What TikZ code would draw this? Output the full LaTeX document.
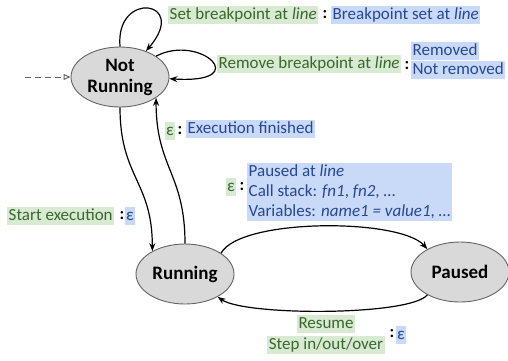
\documentclass[tikz,border=0pt]{standalone}
\usepackage{fontspec}
\setmainfont{Carlito}
\usetikzlibrary{shapes.geometric,arrows.meta}

\definecolor{evfill}{RGB}{217,234,211}
\definecolor{evtext}{RGB}{56,104,46}
\definecolor{rsfill}{RGB}{201,218,248}
\definecolor{rstext}{RGB}{38,72,148}
\definecolor{stfill}{RGB}{217,217,217}
\definecolor{stline}{RGB}{100,100,100}

\begin{document}
\begin{tikzpicture}[x=1pt,y=-1pt,
  state/.style={ellipse, draw=stline, fill=stfill, line width=0.9pt,
    minimum width=98pt, minimum height=60pt, inner sep=0pt,
    font=\fontsize{19}{21}\selectfont\bfseries, align=center},
  lbl/.style={inner xsep=1.5pt, inner ysep=1pt,
    font=\fontsize{17}{20}\selectfont},
  oneline/.style={text height=12.5pt, text depth=4pt},
  event/.style={lbl, oneline, fill=evfill, text=evtext},
  result/.style={lbl, oneline, fill=rsfill, text=rstext},
  resultblock/.style={lbl, inner ysep=2pt, fill=rsfill, text=rstext, align=left},
  sep/.style={font=\fontsize{17}{20}\selectfont\bfseries, inner sep=0pt},
  trans/.style={line width=1.2pt, -{Stealth[length=8pt,width=6pt]}},
]
\useasboundingbox (0,0) rectangle (508,360);

% states
\node[state] (nr) at (120,77) {Not\\Running};
\node[state] (run) at (185,274) {Running};
\node[state] (pa) at (460,272) {Paused};

% initial marker
\coordinate (init) at (25,77);
\draw[stline, line width=1pt, dash pattern=on 6pt off 4pt,
  -{Triangle[open,length=7pt,width=6pt]}] (init) -- (nr.west);

% self loops on Not Running
\draw[trans] (nr.north) .. controls (115,-10) and (190,0) .. (nr.45);
\draw[trans] (nr.30) .. controls (200,33) and (255,84) .. (nr.-2);

% Not Running <-> Running
\draw[trans] (nr.south) .. controls +(0,70) and +(0,-70) .. (run.145);
\draw[trans] (run.north) .. controls +(0,-70) and +(0,70) .. (nr.-30);

% Running <-> Paused
\draw[trans] (run.30) .. controls (240,218) and (400,218) .. (pa.145);
\draw[trans] (pa.-145) .. controls (410,316) and (245,316) .. (run.-35);

% labels: set breakpoint
\node[event, anchor=west] (setev) at (168,15) {Set breakpoint at \textit{line}};
\node[sep] (setc) at (325,15) {:};
\node[result, anchor=west] (setres) at (331,15) {Breakpoint set at \textit{line}};

% labels: remove breakpoint
\node[event, anchor=west] (remev) at (217,64) {Remove breakpoint at \textit{line}};
\node[sep] (remc) at (407,66) {:};
\node[result, anchor=west] (remres1) at (411,51) {Removed};
\node[result, anchor=west] (remres2) at (411,70) {Not removed};

% labels: execution finished
\node[event] (finev) at (170,131) {ε};
\node[sep] (finc) at (180,131) {:};
\node[result, anchor=west] (finres) at (186,129) {Execution finished};

% labels: paused
\node[event] (pauev) at (231,187) {ε};
\node[sep] (pauc) at (242,187) {:};
\node[resultblock, anchor=west] (paures) at (247,192)
  {Paused at \textit{line}\\Call stack: \textit{fn1}, \textit{fn2}, …\\Variables: \textit{name1 = value1}, …};

% labels: start execution
\node[event, anchor=west] (startev) at (7,216) {Start execution};
\node[sep] (startc) at (122,216) {:};
\node[result] (startres) at (130,216) {ε};

% labels: resume / step
\node[event] (resev1) at (326,324) {Resume};
\node[event] (resev2) at (326,345) {Step in/out/over};
\node[sep] (resc) at (392,334) {:};
\node[result] (resres) at (401,335) {ε};
\end{tikzpicture}
\end{document}
